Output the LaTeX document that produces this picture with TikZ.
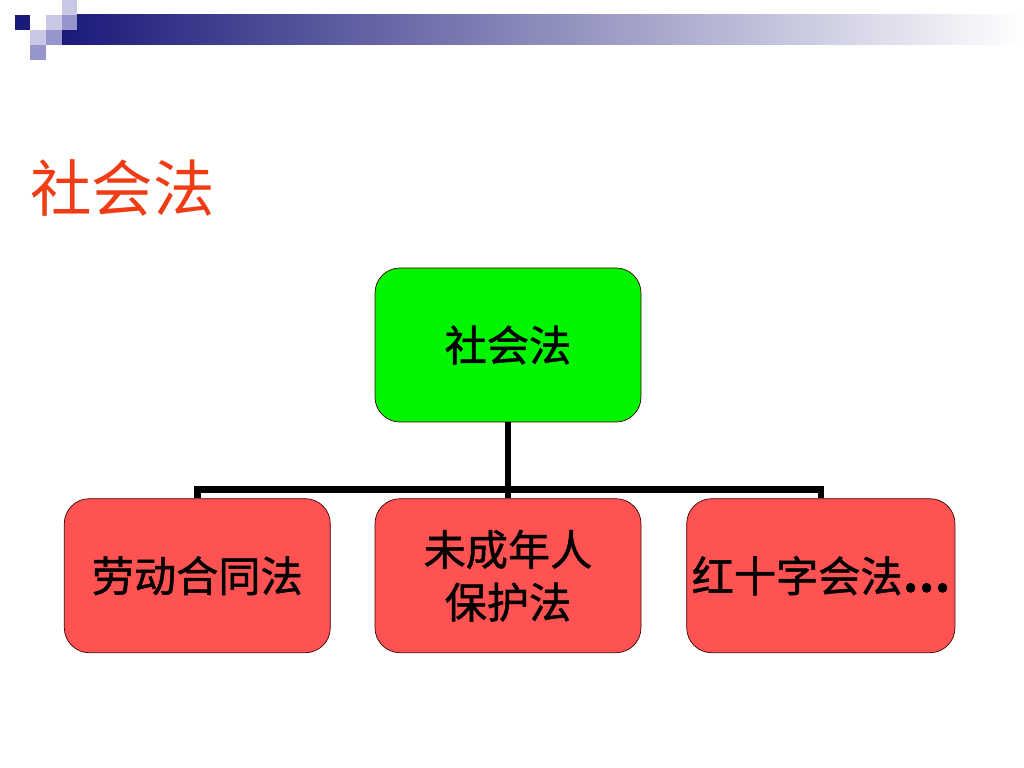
\documentclass[tikz,border=0pt]{standalone}
\usepackage{fontspec}
\setmainfont{Liberation Sans}
\newfontfamily\cjk{Noto Sans CJK SC}
\newfontfamily\cjkbox[FakeBold=1.2]{Noto Sans CJK SC}
\usetikzlibrary{
    calc,
    positioning,
}
\definecolor{titlered}{RGB}{240,60,20}
\definecolor{rootgreen}{RGB}{0,245,0}
\definecolor{leafred}{RGB}{255,82,82}
\definecolor{barnavy}{RGB}{26,26,122}
\definecolor{barmid}{RGB}{150,150,172}
\definecolor{sqlight}{RGB}{200,200,228}
\definecolor{sqmid}{RGB}{150,150,204}
\tikzstyle{lawbox}=[draw=black!75!red,rectangle,rounded corners=0.5cm,minimum width=5.32cm,minimum height=3.08cm,align=center,inner sep=1mm,font=\cjkbox\fontsize{24}{30}\selectfont]
\tikzstyle{tree}=[line width=3.8pt]

\begin{document}
\begin{tikzpicture}
    \useasboundingbox (0,0) rectangle (20.48,-15.36);
    % header bar and squares
    \shade[left color=barnavy,middle color=barmid,right color=white] (1.24,-0.3) rectangle (20.48,-0.9);
    \fill[barnavy] (0.3,-0.3) rectangle (0.6,-0.6);
    \fill[sqlight] (1.24,0) rectangle (1.54,-0.3);
    \fill[sqlight] (0.92,-0.3) rectangle (1.24,-0.6);
    \fill[sqmid] (1.24,-0.3) rectangle (1.54,-0.6);
    \fill[sqlight] (0.6,-0.6) rectangle (0.92,-0.9);
    \fill[sqmid] (0.92,-0.6) rectangle (1.24,-0.9);
    \fill[sqmid] (0.6,-0.9) rectangle (0.92,-1.2);
    % title
    \node[anchor=west,inner sep=0,text=titlered,font=\cjk\fontsize{35}{42}\selectfont] (title) at (0.6,-3.76) {社会法};
    % tree
    \node[lawbox,fill=rootgreen] (social) at (10.16,-6.9) {社会法};
    \node[lawbox,fill=leafred,below=1.52cm of social] (minor) {未成年人\\保护法};
    \node[lawbox,fill=leafred,left=0.88cm of minor] (labour) {劳动合同法};
    \node[lawbox,fill=leafred,right=0.9cm of minor] (redcross) {红十字会法{\bfseries …}};
    \coordinate (fork) at ($(social.south)!0.88!(minor.north)$);
    \draw[tree] (social.south) -- (minor.north);
    \draw[tree] (labour.north) |- (fork) -| (redcross.north);
\end{tikzpicture}
\end{document}
